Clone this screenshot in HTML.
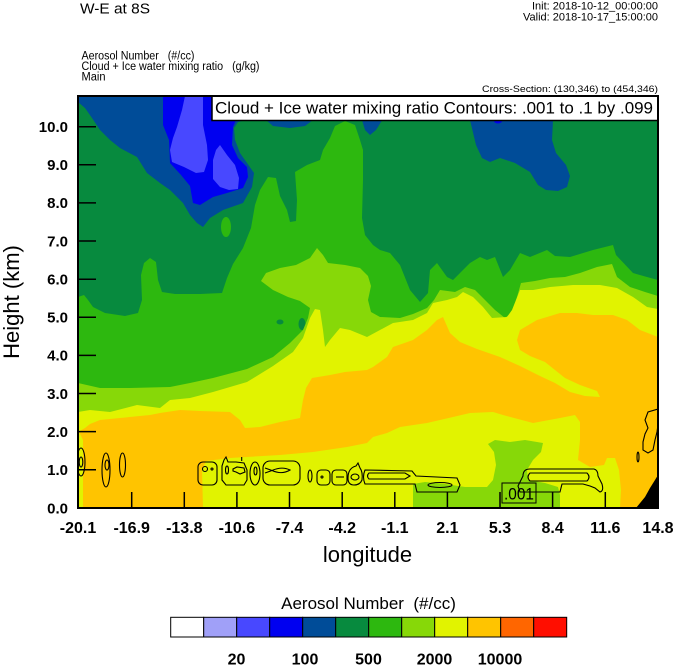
<!DOCTYPE html>
<html>
<head>
<meta charset="utf-8">
<style>
html,body{margin:0;padding:0;background:#fff;}
svg{display:block;}
text{font-family:"Liberation Sans",Arial,sans-serif;fill:#000;}
</style>
</head>
<body>
<svg width="674" height="667" viewBox="0 0 674 667" xmlns="http://www.w3.org/2000/svg">
<rect x="0" y="0" width="674" height="667" fill="#fff"/>

<!-- header texts -->
<text x="80" y="13.5" font-size="15" textLength="70" lengthAdjust="spacingAndGlyphs">W-E at 8S</text>
<text x="658" y="9.5" font-size="11" text-anchor="end">Init: 2018-10-12_00:00:00</text>
<text x="658" y="20.5" font-size="11" text-anchor="end">Valid: 2018-10-17_15:00:00</text>
<text x="81.5" y="59.5" font-size="11.5" textLength="113" lengthAdjust="spacingAndGlyphs" xml:space="preserve">Aerosol Number   (#/cc)</text>
<text x="81.5" y="70" font-size="11.5" textLength="178" lengthAdjust="spacingAndGlyphs" xml:space="preserve">Cloud + Ice water mixing ratio   (g/kg)</text>
<text x="81.5" y="80.5" font-size="11.5" textLength="24" lengthAdjust="spacingAndGlyphs">Main</text>
<text x="658" y="92" font-size="9.5" text-anchor="end" textLength="176" lengthAdjust="spacingAndGlyphs">Cross-Section: (130,346) to (454,346)</text>

<!-- plot area -->
<svg x="78" y="96" width="580" height="412" viewBox="78 96 580 412" overflow="hidden">
<rect x="78" y="96" width="580" height="412" fill="#078a3e"/>

<!-- dark blue top-left -->
<path fill="#004c98" d="M78,96 L78,102 L85,108 L92,118 L100,130 L110,140 L120,148 L137,157 L147,173 L160,183 L170,190 L183,203 L190,215 L197,223 L203,227 L210,218 L223,210 L243,203 L252,187 L254,173 L247,163 L240,153 L235,140 L234,128 L238,122 L246,120 L212,120 L212,96 Z"/>
<path fill="#004c98" d="M266,120 L273,126 L290,128 L305,126 L313,120 Z"/>
<path fill="#004c98" d="M362,120 L365,130 L370,135 L376,130 L381,122 L383,120 Z"/>
<path fill="#004c98" d="M470,120 L476,145 L482,158 L490,162 L500,158 L515,163 L530,172 L538,185 L546,190 L558,191 L567,187 L570,176 L566,165 L556,153 L552,140 L553,120 Z"/>
<ellipse cx="498" cy="121" rx="4" ry="2.5" fill="#0000f0"/>

<!-- blue -->
<path fill="#0000f0" d="M163,96 L163,125 L169,140 L170,163 L181,175 L190,186 L193,203 L200,205 L213,197 L227,193 L243,188 L248,177 L247,167 L238,158 L232,145 L233,127 L236,120 L212,120 L212,96 Z"/>
<!-- light blue -->
<path fill="#4848ff" d="M185,96 L203,96 L203,125 L207,145 L208,160 L204,172 L196,173 L184,167 L172,162 L170,150 L173,138 L177,127 L182,110 Z"/>
<path fill="#4848ff" d="M213,172 L213,160 L216,150 L220,145 L227,155 L235,165 L239,178 L238,189 L229,190 L220,187 L213,179 Z"/>

<!-- bright green -->
<path fill="#2db80f" d="M78,297 L84,295 L88,300 L93,307 L105,313 L125,316 L138,313 L142,300 L141,275 L144,263 L150,258 L156,262 L158,280 L162,292 L175,294 L200,294 L222,293 L227,278 L233,264 L243,248 L251,228 L255,205 L260,190 L268,177 L276,178 L280,196 L287,210 L290,222 L296,221 L297,200 L295,172 L307,165 L320,160 L323,150 L330,138 L335,126 L345,121 L355,125 L360,140 L363,150 L363,180 L362,218 L365,235 L373,245 L380,250 L390,253 L400,265 L410,290 L420,302 L428,293 L430,270 L437,263 L447,277 L453,280 L460,273 L470,263 L480,257 L487,260 L495,257 L503,277 L510,270 L520,253 L530,257 L547,250 L555,256 L570,257 L593,250 L613,245 L616,255 L633,273 L647,277 L658,280 L658,508 L78,508 Z"/>
<ellipse cx="226" cy="227" rx="5" ry="10" fill="#2db80f"/>
<ellipse cx="280" cy="322" rx="3.5" ry="2.5" fill="#078a3e"/>
<ellipse cx="302" cy="324" rx="3.5" ry="6" fill="#078a3e"/>

<!-- yellow-green -->
<path fill="#87d808" d="M78,383 L100,388 L130,388 L170,387 L190,383 L213,378 L247,369 L273,357 L290,343 L303,330 L308,318 L310,308 L300,301 L288,297 L273,290 L261,281 L266,273 L280,268 L296,265 L310,258 L317,248 L323,255 L328,263 L345,265 L360,268 L368,276 L371,286 L368,300 L371,312 L380,317 L400,318 L413,314 L427,308 L434,300 L440,290 L455,292 L465,287 L475,290 L485,300 L495,310 L505,318 L512,312 L517,297 L521,283 L535,281 L550,278 L565,277 L580,273 L597,267 L612,264 L617,277 L630,287 L645,292 L658,296 L658,508 L78,508 Z"/>

<!-- yellow -->
<path fill="#e1f300" d="M78,412 L90,410 L110,412 L137,405 L160,408 L170,400 L190,398 L213,392 L247,382 L273,366 L293,352 L303,338 L310,318 L315,309 L320,310 L323,330 L325,347 L330,340 L340,328 L350,330 L367,337 L380,330 L393,323 L413,320 L427,313 L433,303 L447,300 L457,297 L463,292 L473,297 L483,307 L492,318 L507,317 L512,310 L520,290 L533,290 L550,287 L573,285 L600,285 L617,288 L633,297 L647,307 L658,309 L658,508 L78,508 Z"/>

<!-- orange -->
<path fill="#ffc400" d="M78,432 L85,428 L90,424 L100,420 L120,418 L150,415 L160,413 L180,410 L200,411 L230,412 L240,420 L245,428 L260,427 L280,422 L300,418 L303,400 L306,388 L312,378 L330,375 L345,372 L367,370 L373,367 L387,357 L393,347 L413,340 L427,330 L437,320 L443,317 L450,333 L460,342 L477,349 L500,357 L520,366 L540,376 L555,383 L570,392 L585,396 L600,397 L597,391 L580,385 L565,378 L555,370 L545,362 L530,356 L520,350 L517,340 L520,330 L537,320 L547,317 L560,313 L577,313 L593,315 L613,315 L627,320 L640,330 L658,337 L658,508 L78,508 Z"/>

<!-- yellow inside orange -->
<path fill="#e1f300" d="M78,430 L83,440 L83,508 L78,508 Z"/>
<path fill="#e1f300" d="M203,508 L202,470 L206,461 L230,458 L280,455 L313,452 L347,447 L367,443 L373,437 L387,433 L400,427 L427,423 L453,417 L470,413 L493,412 L503,415 L533,423 L560,418 L575,415 L580,422 L580,440 L578,460 L590,467 L604,465 L607,458 L615,458 L619,470 L621,490 L620,508 Z"/>

<!-- yellow-green bottom -->
<path fill="#87d808" d="M413,508 L413,484 L425,482 L445,484 L465,487 L487,487 L493,480 L496,465 L494,452 L488,444 L495,440 L510,442 L525,440 L543,443 L541,452 L533,460 L527,470 L528,480 L545,483 L558,487 L560,495 L560,508 Z"/>

<!-- black corner -->
<path fill="#000" d="M636,508 L645,497 L650,488 L655,480 L658,475 L658,508 Z"/>

<!-- contours -->
<g fill="none" stroke="#000" stroke-width="1.1">
<ellipse cx="81" cy="462" rx="4" ry="14"/>
<ellipse cx="81" cy="462" rx="1.8" ry="5"/>
<ellipse cx="106" cy="470" rx="4" ry="17"/>
<ellipse cx="107" cy="465" rx="2" ry="5"/>
<ellipse cx="122.5" cy="465" rx="3" ry="12"/>
<rect x="198" y="462" width="19" height="23" rx="5"/>
<circle cx="205" cy="469" r="2.5"/>
<circle cx="212" cy="469" r="1"/>
<path d="M224,460 L226,457 L228,462 L236,462 L244,463 L247,470 L247,480 L244,485 L226,485 L222,480 L222,466 Z"/>
<ellipse cx="227" cy="470" rx="1.5" ry="4"/>
<path d="M233,469 L237,467 L244,468 L245,472 L240,474 L236,472 L233,471 Z"/>
<ellipse cx="255" cy="473.5" rx="5" ry="11.5"/>
<ellipse cx="255.5" cy="471" rx="1.5" ry="4"/>
<rect x="263" y="461" width="37" height="24" rx="7"/>
<path d="M265,468 L272,470.5 L265,473 M272,470.5 Q282,466 290,470 Q282,475 272,470.5"/>
<ellipse cx="310" cy="476" rx="2" ry="6"/>
<rect x="317" y="470" width="13" height="15" rx="4"/>
<circle cx="322" cy="477" r="1"/>
<rect x="332" y="470" width="15" height="15" rx="4"/>
<path d="M336,477 L344,477"/>
<path d="M348,478 Q348,468 356,466 L358,463 L360,468 Q363,472 362,480 Q360,485 354,485 Q348,485 348,478 Z"/>
<ellipse cx="355" cy="477" rx="4" ry="3"/>
<path d="M365,470 L412,471 L416,476 L457,478 L460,485 L457,492 L417,492 L415,484 L365,484 Q362,477 365,470 Z"/>
<path d="M369,473 L405,473 L410,476 L405,479 L369,479 Q366,476 369,473 Z"/>
<ellipse cx="440" cy="485" rx="12" ry="2.5"/>
<path d="M523,476 Q523,469 530,469 L594,469 Q598,470 598,476 L602,484 Q604,491 600,492 L595,488 L590,486 L583,484 L562,484 L560,492 L520,492 L518,486 Z"/>
<path d="M530,473 L587,473 Q591,477 587,481 L530,481 Q526,477 530,473 Z"/>
<path d="M658,409 L648,412 L645,420 L648,428 L645,434 L643,442 L643,450 L648,453 L653,450 L655,440 L657,432 L658,425"/>
<ellipse cx="638" cy="457" rx="1" ry="5"/>
<path d="M241.7,457 L241.7,461"/>
</g>
<rect x="502" y="483" width="34" height="20" fill="none" stroke="#000" stroke-width="1"/>
<text x="519" y="499.5" font-size="16.5" text-anchor="middle" textLength="30" lengthAdjust="spacingAndGlyphs">.001</text>
</svg>

<!-- title box -->
<rect x="212" y="96" width="446" height="24.5" fill="#fff" stroke="#000" stroke-width="1.5"/>
<text x="215" y="113.5" font-size="17" textLength="438" lengthAdjust="spacingAndGlyphs">Cloud + Ice water mixing ratio Contours: .001 to .1 by .099</text>

<!-- frame -->
<rect x="78" y="96" width="580" height="412" fill="none" stroke="#000" stroke-width="2"/>

<!-- ticks -->
<g stroke="#000" stroke-width="1.5">
<line x1="78" y1="126.7" x2="96" y2="126.7"/>
<line x1="78" y1="164.8" x2="96" y2="164.8"/>
<line x1="78" y1="202.9" x2="96" y2="202.9"/>
<line x1="78" y1="241" x2="96" y2="241"/>
<line x1="78" y1="279.2" x2="96" y2="279.2"/>
<line x1="78" y1="317.3" x2="96" y2="317.3"/>
<line x1="78" y1="355.4" x2="96" y2="355.4"/>
<line x1="78" y1="393.5" x2="96" y2="393.5"/>
<line x1="78" y1="431.6" x2="96" y2="431.6"/>
<line x1="78" y1="469.8" x2="96" y2="469.8"/>
<line x1="131.7" y1="508" x2="131.7" y2="492"/>
<line x1="184.3" y1="508" x2="184.3" y2="492"/>
<line x1="236.9" y1="508" x2="236.9" y2="492"/>
<line x1="289.5" y1="508" x2="289.5" y2="492"/>
<line x1="342.2" y1="508" x2="342.2" y2="492"/>
<line x1="394.8" y1="508" x2="394.8" y2="492"/>
<line x1="447.4" y1="508" x2="447.4" y2="492"/>
<line x1="500" y1="508" x2="500" y2="492"/>
<line x1="552.6" y1="508" x2="552.6" y2="492"/>
<line x1="605.3" y1="508" x2="605.3" y2="492"/>
</g>

<!-- y tick labels -->
<g font-size="15" font-weight="bold" text-anchor="end">
<text x="68" y="132">10.0</text>
<text x="68" y="170">9.0</text>
<text x="68" y="208">8.0</text>
<text x="68" y="246.5">7.0</text>
<text x="68" y="284.5">6.0</text>
<text x="68" y="322.5">5.0</text>
<text x="68" y="360.5">4.0</text>
<text x="68" y="399">3.0</text>
<text x="68" y="437">2.0</text>
<text x="68" y="475">1.0</text>
<text x="68" y="513.5">0.0</text>
</g>

<!-- x tick labels -->
<g font-size="16" font-weight="bold" text-anchor="middle">
<text x="78" y="533">-20.1</text>
<text x="131.7" y="533">-16.9</text>
<text x="184.3" y="533">-13.8</text>
<text x="236.9" y="533">-10.6</text>
<text x="289.5" y="533">-7.4</text>
<text x="342.2" y="533">-4.2</text>
<text x="394.8" y="533">-1.1</text>
<text x="447.4" y="533">2.1</text>
<text x="500" y="533">5.3</text>
<text x="552.6" y="533">8.4</text>
<text x="605.3" y="533">11.6</text>
<text x="658" y="533">14.8</text>
</g>

<!-- axis titles -->
<text x="367.5" y="562" font-size="22" text-anchor="middle">longitude</text>
<text transform="translate(19,302) rotate(-90)" font-size="22" text-anchor="middle">Height (km)</text>

<!-- colorbar -->
<text x="368.5" y="609" font-size="17" text-anchor="middle" xml:space="preserve">Aerosol Number  (#/cc)</text>
<g stroke="#000" stroke-width="1">
<rect x="170.7" y="617.3" width="33" height="19.7" fill="#ffffff"/>
<rect x="203.7" y="617.3" width="33" height="19.7" fill="#a0a0f8"/>
<rect x="236.7" y="617.3" width="33" height="19.7" fill="#4848ff"/>
<rect x="269.7" y="617.3" width="33" height="19.7" fill="#0000f0"/>
<rect x="302.7" y="617.3" width="33" height="19.7" fill="#004c98"/>
<rect x="335.7" y="617.3" width="33" height="19.7" fill="#078a3e"/>
<rect x="368.7" y="617.3" width="33" height="19.7" fill="#2db80f"/>
<rect x="401.7" y="617.3" width="33" height="19.7" fill="#87d808"/>
<rect x="434.7" y="617.3" width="33" height="19.7" fill="#e1f300"/>
<rect x="467.7" y="617.3" width="33" height="19.7" fill="#ffc400"/>
<rect x="500.7" y="617.3" width="33" height="19.7" fill="#ff6600"/>
<rect x="533.7" y="617.3" width="33" height="19.7" fill="#ff0e00"/>
</g>
<g font-size="16" font-weight="bold" text-anchor="middle">
<text x="236.5" y="664.5">20</text>
<text x="305" y="664.5">100</text>
<text x="368.5" y="664.5">500</text>
<text x="434.5" y="664.5">2000</text>
<text x="500" y="664.5">10000</text>
</g>
</svg>
</body>
</html>
